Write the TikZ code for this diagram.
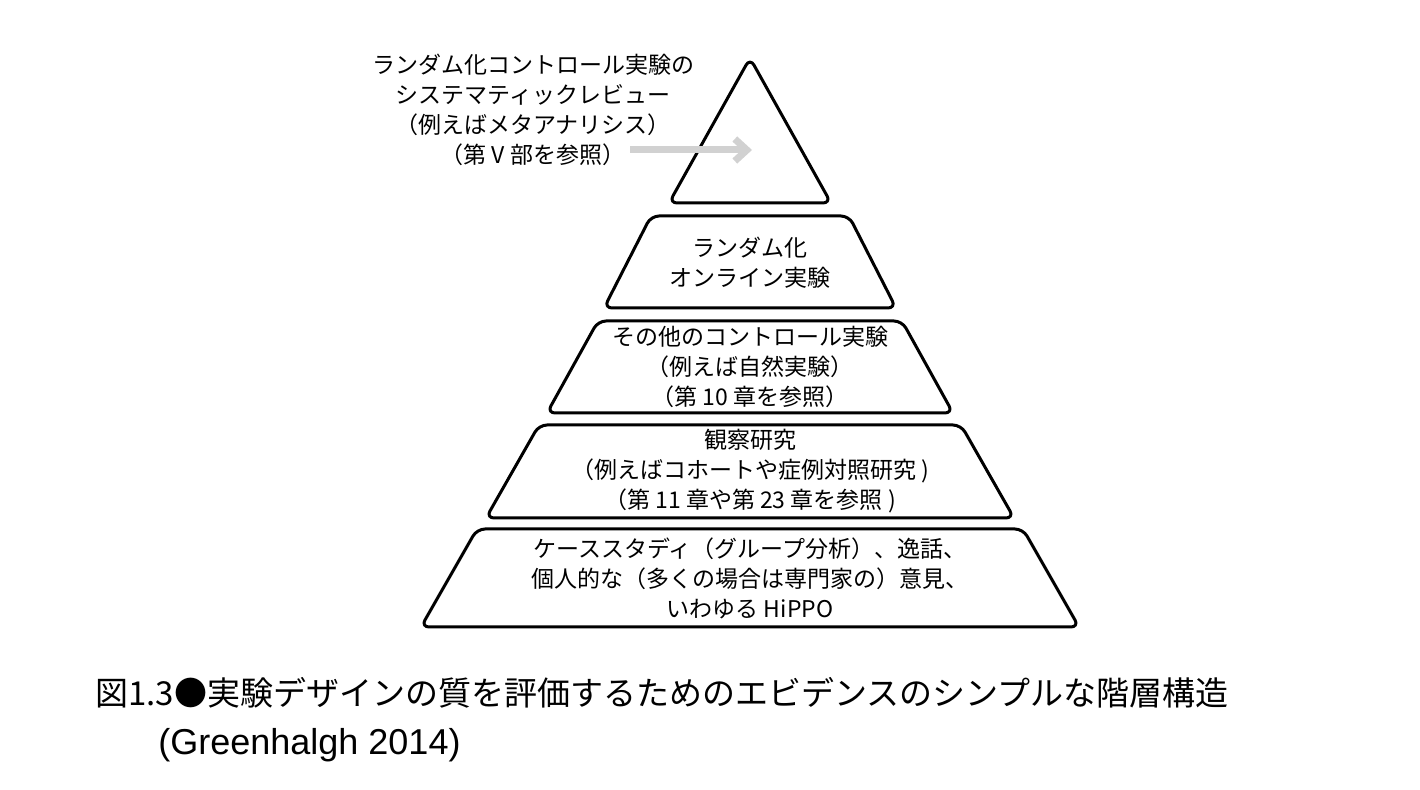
\documentclass[tikz,border=0pt]{standalone}
\usepackage{fontspec}
\setmainfont{Noto Sans CJK JP}
\newfontfamily\capsans{Liberation Sans}
\usetikzlibrary{arrows.meta}

\begin{document}
\begin{tikzpicture}[x=0.5pt, y=-0.5pt,
    tier/.style={draw=black, line width=1.5pt, rounded corners=4pt, line join=round},
    tiertext/.style={align=center, font=\fontsize{11.5}{15}\selectfont, inner sep=0pt},
    captext/.style={anchor=west, font=\fontsize{16.5}{20}\selectfont, inner sep=0pt}]

% Fix the page to the reference size
\useasboundingbox (0,0) rectangle (1420,790);

% Top of the pyramid
\draw[tier] (750,58) -- (831,203) -- (669,203) -- cycle;

% The four lower tiers (top y / bottom y / top half-width / bottom half-width)
\foreach \ty/\by/\tw/\bw in {216/308/99/146, 321/413/152/203,
                             425/518/211/264, 529/627/273/329} {
    \draw[tier] ({750-\tw},\ty) -- ({750+\tw},\ty) -- ({750+\bw},\by)
        -- ({750-\bw},\by) -- cycle;
}

% Labels of the tiers
\node[tiertext] (review) at (533,110) {ランダム化コントロール実験の\\システマティックレビュー\\（例えばメタアナリシス）\\（第 V 部を参照）};
\node[tiertext] (online) at (750,263) {ランダム化\\オンライン実験};
\node[tiertext] (control) at (750,367) {その他のコントロール実験\\（例えば自然実験）\\（第 10 章を参照）};
\node[tiertext] (observe) at (750,471) {観察研究\\（例えばコホートや症例対照研究 )\\（第 11 章や第 23 章を参照 )};
\node[tiertext] (anecdote) at (750,578) {ケーススタディ（グループ分析）、逸話、\\個人的な（多くの場合は専門家の）意見、\\いわゆる HiPPO};

% Gray pointer into the top
\coordinate (arrowstart) at (630,150);
\coordinate (arrowend) at (752,150);
\draw[black!18, line width=3.5pt, -{Straight Barb[length=6pt, width=11pt]}] (arrowstart) -- (arrowend);

% Caption
\node[captext] (caption) at (95,693) {図1.3●実験デザインの質を評価するためのエビデンスのシンプルな階層構造};
\node[captext, font=\capsans\fontsize{18}{20}\selectfont] (source) at (158,745) {(Greenhalgh 2014)};

\end{tikzpicture}
\end{document}
